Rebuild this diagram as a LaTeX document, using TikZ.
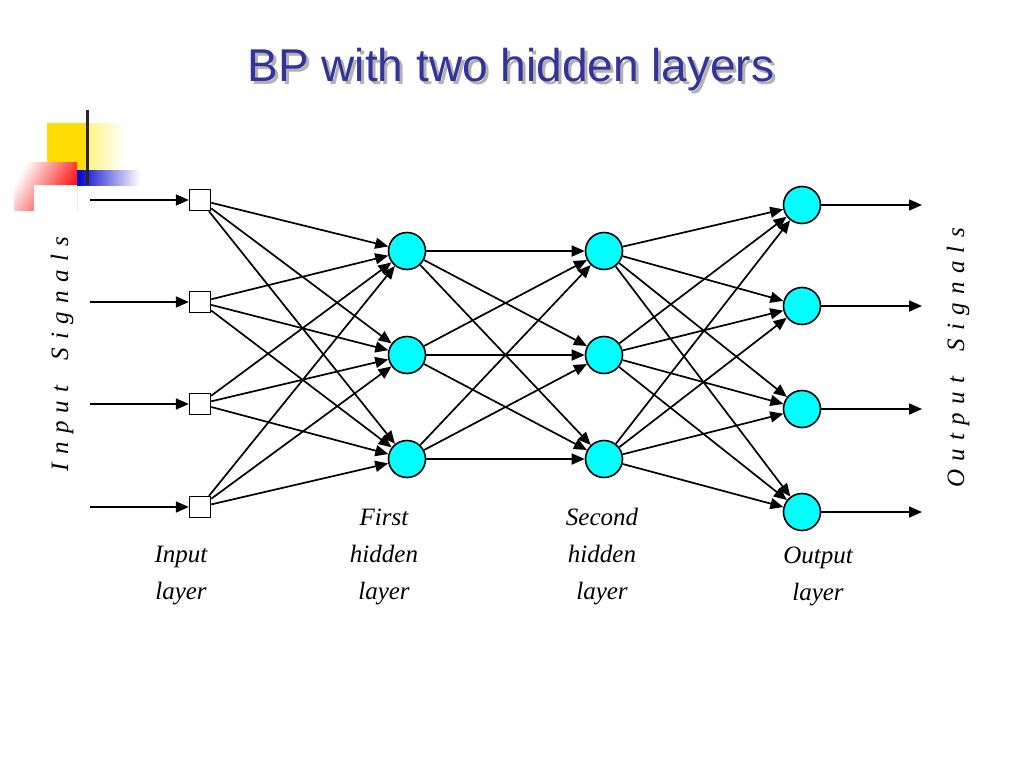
\documentclass[tikz,border=0pt]{standalone}
\usepackage{fontspec}
\setmainfont{Liberation Serif}
\newfontfamily\sansf{Liberation Sans}
\usetikzlibrary{arrows.meta,shadings}
\definecolor{ttl}{HTML}{333399}
\definecolor{cy}{HTML}{00FFFF}
\begin{document}
\begin{tikzpicture}[x=1pt,y=-1pt,
 inp/.style={draw,fill=white,minimum size=21pt,inner sep=0pt,line width=1.4pt},
 neu/.style={circle,draw,fill=cy,minimum size=37pt,inner sep=0pt,line width=1.6pt},
 con/.style={line width=1.7pt,-{Triangle[length=13pt,width=11pt]}},
 lab/.style={font=\itshape\fontsize{25}{37}\selectfont,align=center}]
\useasboundingbox (0,0) rectangle (1024,768);
% decoration
\fill[left color=yellow!80!orange,right color=white] (47,123) rectangle (125,185);
\fill[yellow!80!orange] (47,123) rectangle (88,185);
\fill[shading=axis,left color=white,right color=red,shading angle=60] (14,162) rectangle (77,210);
\fill[white] (34,185) rectangle (77,212);
\fill[left color=blue!80!black,right color=white] (77,170) rectangle (140,185);
\draw[line width=3pt,black!85] (87,110) -- (87,185);
% title
\node[font=\sansf\fontsize{46}{50}\selectfont,text=gray!60] at (514,73) {BP with two hidden layers};
\node[font=\sansf\fontsize{46}{50}\selectfont,text=ttl] (title) at (511,70) {BP with two hidden layers};
% nodes
\foreach \i/\y in {1/200,2/302,3/404,4/507}{
 \node[inp] (i\i) at (200,\y) {};
 \coordinate (s\i) at (90,\y);
 \draw[con] (s\i) -- (i\i);}
\foreach \i/\y in {1/251,2/355,3/459}{
 \node[neu] (a\i) at (407,\y) {};
 \node[neu] (b\i) at (604,\y) {};}
\foreach \i/\y in {1/205,2/306,3/409,4/512}{
 \node[neu] (o\i) at (802,\y) {};
 \coordinate (e\i) at (922,\y);
 \draw[con] (o\i) -- (e\i);}
\foreach \i in {1,...,4}{\foreach \j in {1,2,3}{\draw[con] (i\i) -- (a\j);}}
\foreach \i in {1,2,3}{\foreach \j in {1,2,3}{\draw[con] (a\i) -- (b\j);}}
\foreach \i in {1,2,3}{\foreach \j in {1,...,4}{\draw[con] (b\i) -- (o\j);}}
% labels
\node[lab] (l1) at (181,576) {Input\\layer};
\node[lab] (l2) at (384,557) {First\\hidden\\layer};
\node[lab] (l3) at (602,557) {Second\\hidden\\layer};
\node[lab] (l4) at (818,576) {Output\\layer};
\node[lab,rotate=90] (is) at (62,354) {I\,\,n\,\,p\,\,u\,\,t\quad S\,\,i\,\,g\,\,n\,\,a\,\,l\,\,s};
\node[lab,rotate=90] (os) at (958,358) {O\,\,u\,\,t\,\,p\,\,u\,\,t\quad S\,\,i\,\,g\,\,n\,\,a\,\,l\,\,s};
\end{tikzpicture}
\end{document}
